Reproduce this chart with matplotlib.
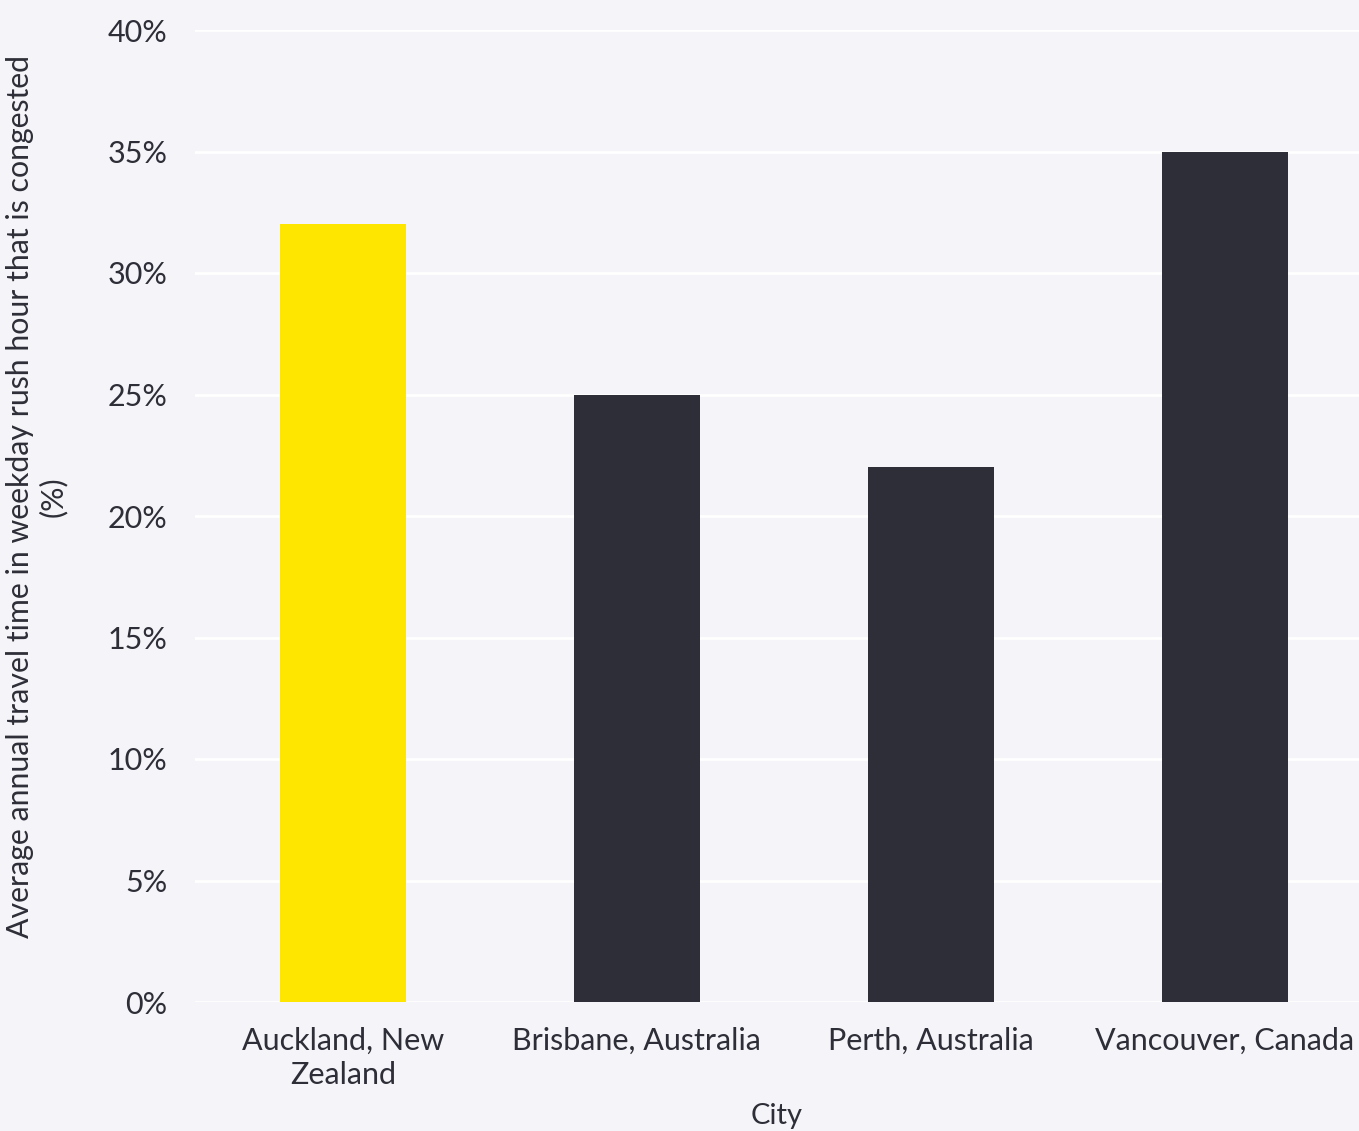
import matplotlib
matplotlib.use("Agg")
import matplotlib.pyplot as plt
from matplotlib.ticker import FuncFormatter

cities = ["Auckland, New\nZealand", "Brisbane, Australia", "Perth, Australia", "Vancouver, Canada"]
congestion = [32, 25, 22, 35]
bar_colors = ["#ffe600", "#2e2e38", "#2e2e38", "#2e2e38"]

bg = "#f5f5f9"
txt = "#2e2e38"

plt.rcParams['font.family'] = ['Lato', 'DejaVu Sans']

fig = plt.figure(figsize=(13.59, 11.31), dpi=100, facecolor=bg)
ax = fig.add_axes([195/1359, 1 - 1002/1131, 1164/1359, 972/1131], facecolor=bg)

x = range(len(cities))
ax.bar(x, congestion, width=0.43, color=bar_colors, zorder=3)

ax.set_ylim(0, 40)
ax.set_xlim(-0.503, 3.456)
ax.set_yticks(range(0, 41, 5))
ax.yaxis.set_major_formatter(FuncFormatter(lambda v, p: f"{int(v)}%"))
ax.set_xticks(list(x))
ax.set_xticklabels(cities)
ax.grid(axis='y', color='white', lw=2, zorder=0)
for s in ax.spines.values():
    s.set_visible(False)
ax.tick_params(axis='both', length=0, labelsize=22, colors=txt)
ax.tick_params(axis='y', pad=20)
ax.tick_params(axis='x', pad=18)
for lab in ax.get_xticklabels():
    lab.set_linespacing(1.25)

ax.set_xlabel("City", fontsize=21, color=txt, labelpad=10)
ax.set_ylabel("Average annual travel time in weekday rush hour that is congested\n(%)",
              fontsize=21.8, color=txt, linespacing=1.2)
ax.yaxis.set_label_coords(-0.11, 0.52)

fig.savefig("out.png", dpi=100, facecolor=bg)
